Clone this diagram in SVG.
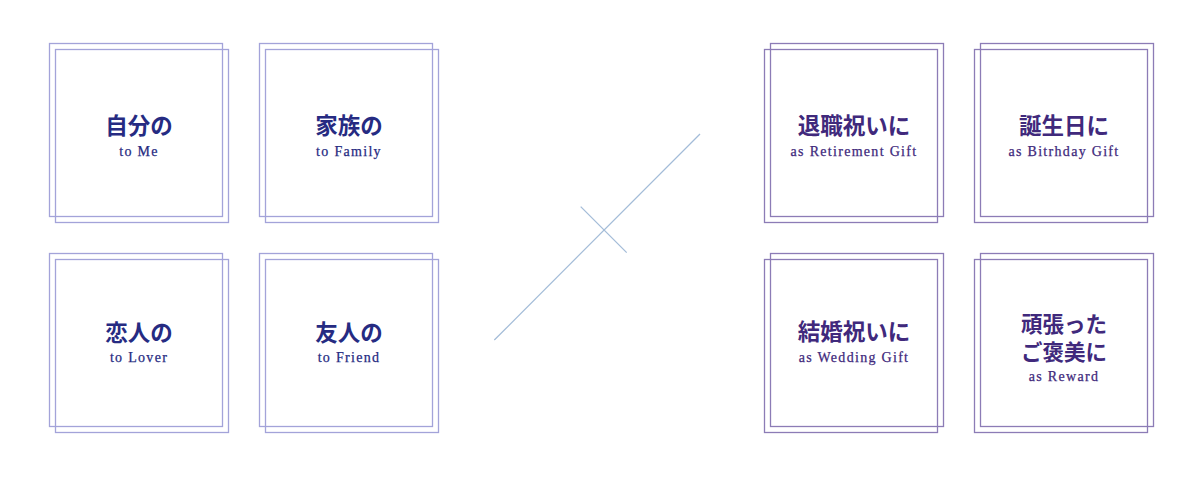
<svg xmlns="http://www.w3.org/2000/svg" width="1204" height="483" viewBox="0 0 1204 483">
<style>
.bl{fill:none;stroke:#a3a3d9;stroke-width:1.3}
.br{fill:none;stroke:#8c7cb6;stroke-width:1.3}
.jp{font-family:"Noto Sans CJK JP","Noto Sans",sans-serif;font-weight:700;font-size:22.5px;text-anchor:middle}
.jp2{font-size:21.5px}
.en{font-family:"Liberation Serif",serif;font-size:14px;letter-spacing:1.3px;text-anchor:middle;stroke-width:0.25}
.cl{fill:#262b82}
.en.cl{stroke:#262b82}
.cr{fill:#40297c}
.en.cr{stroke:#40297c}
.ln{stroke:#a3bcd8;stroke-width:1.2;fill:none}
</style>
<rect width="1204" height="483" fill="#ffffff"/>
<g id="connectors">
<line class="ln" x1="494.3" y1="340" x2="700" y2="134"/>
<line class="ln" x1="580.7" y1="206.7" x2="626.7" y2="252.7"/>
</g>
<g id="node-me">
<rect class="bl" x="49.5" y="43.5" width="173" height="173"/>
<rect class="bl" x="55.5" y="49.5" width="173" height="173"/>
<text class="jp cl" x="139" y="134">自分の</text>
<text class="en cl" x="139" y="156">to Me</text>
</g>
<g id="node-family">
<rect class="bl" x="259.5" y="43.5" width="173" height="173"/>
<rect class="bl" x="265.5" y="49.5" width="173" height="173"/>
<text class="jp cl" x="349" y="134">家族の</text>
<text class="en cl" x="349" y="156">to Family</text>
</g>
<g id="node-lover">
<rect class="bl" x="49.5" y="253.5" width="173" height="173"/>
<rect class="bl" x="55.5" y="259.5" width="173" height="173"/>
<text class="jp cl" x="139" y="341">恋人の</text>
<text class="en cl" x="139" y="362">to Lover</text>
</g>
<g id="node-friend">
<rect class="bl" x="259.5" y="253.5" width="173" height="173"/>
<rect class="bl" x="265.5" y="259.5" width="173" height="173"/>
<text class="jp cl" x="349" y="341">友人の</text>
<text class="en cl" x="349" y="362">to Friend</text>
</g>
<g id="node-retirement">
<rect class="br" x="770.5" y="43.5" width="173" height="173"/>
<rect class="br" x="764.5" y="49.5" width="173" height="173"/>
<text class="jp cr" x="854" y="134">退職祝いに</text>
<text class="en cr" x="854" y="156">as Retirement Gift</text>
</g>
<g id="node-birthday">
<rect class="br" x="980.5" y="43.5" width="173" height="173"/>
<rect class="br" x="974.5" y="49.5" width="173" height="173"/>
<text class="jp cr" x="1064" y="134">誕生日に</text>
<text class="en cr" x="1064" y="156">as Bitrhday Gift</text>
</g>
<g id="node-wedding">
<rect class="br" x="770.5" y="253.5" width="173" height="173"/>
<rect class="br" x="764.5" y="259.5" width="173" height="173"/>
<text class="jp cr" x="854" y="340">結婚祝いに</text>
<text class="en cr" x="854" y="362">as Wedding Gift</text>
</g>
<g id="node-reward">
<rect class="br" x="980.5" y="253.5" width="173" height="173"/>
<rect class="br" x="974.5" y="259.5" width="173" height="173"/>
<text class="jp jp2 cr" x="1064" y="332"><tspan x="1064" y="332">頑張った</tspan><tspan x="1064" y="359.5">ご褒美に</tspan></text>
<text class="en cr" x="1064" y="381">as Reward</text>
</g>
</svg>
